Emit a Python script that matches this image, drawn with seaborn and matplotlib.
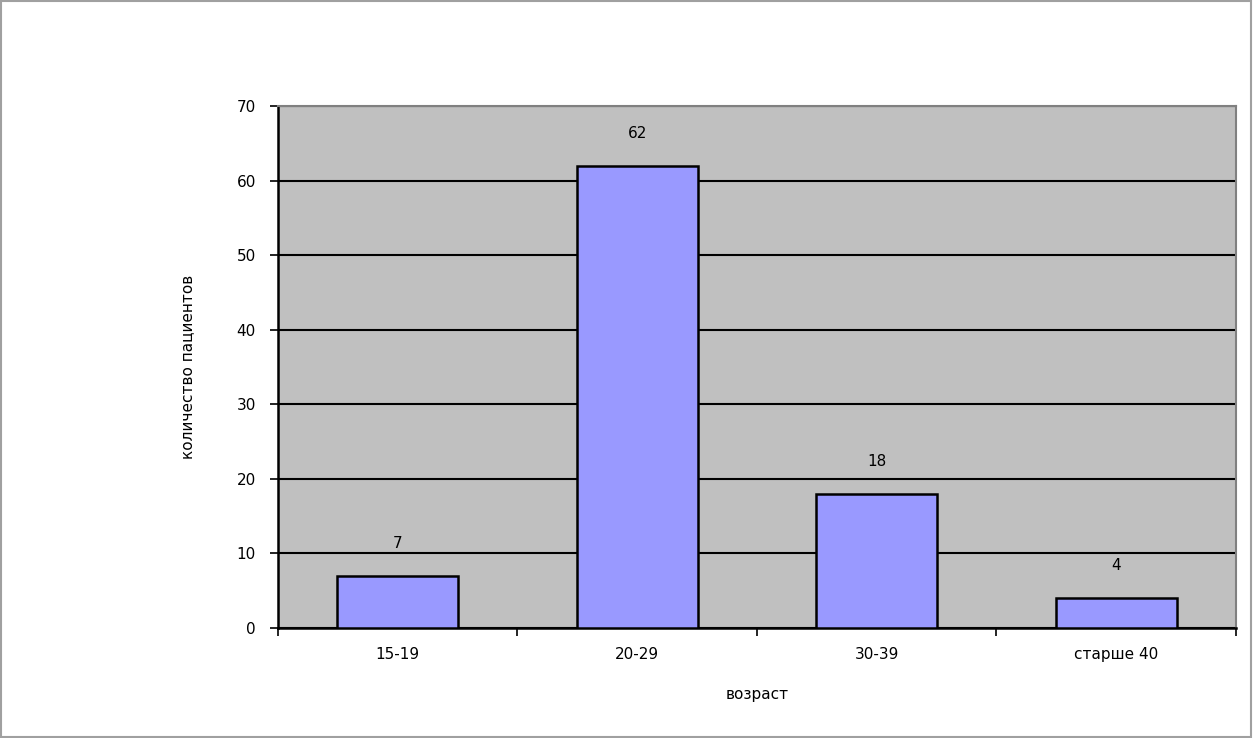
import matplotlib
matplotlib.use("Agg")
import matplotlib.pyplot as plt
import numpy as np
import pandas as pd
import seaborn as sns

categories = ["15-19", "20-29", "30-39", "старше 40"]
counts = [7, 62, 18, 4]
y_ticks = [0, 10, 20, 30, 40, 50, 60, 70]

df = pd.DataFrame({"age": categories, "n": counts})

sns.set_theme(style="white")
plt.rcParams["font.family"] = ["DejaVu Sans"]
plt.rcParams["text.color"] = "black"
plt.rcParams["axes.labelcolor"] = "black"
plt.rcParams["xtick.color"] = "black"
plt.rcParams["ytick.color"] = "black"

fig = plt.figure(figsize=(12.54, 7.38), dpi=100)
ax = fig.add_axes([0.2217, 0.149, 0.7639, 0.7073])
ax.set_facecolor("#C0C0C0")

sns.barplot(data=df, x="age", y="n", order=categories, color="#9999FF",
            saturation=1, width=0.505, edgecolor="black", linewidth=1.8, ax=ax,
            zorder=3)

ax.set_ylim(0, 70)
ax.set_xlim(-0.5, len(categories) - 0.5)
ax.set_yticks(y_ticks)
ax.yaxis.grid(True, color="black", linewidth=1.5, zorder=0)
ax.set_axisbelow(True)

for i, v in enumerate(counts):
    ax.annotate(str(v), (i, v), xytext=(0, 18), textcoords="offset points",
                ha="center", va="bottom", fontsize=11)

# category ticks sit between the bars
ax.set_xticks(np.arange(len(categories)))
ax.set_xticklabels(categories, fontsize=11)
ax.set_xticks(np.arange(len(categories) + 1) - 0.5, minor=True)
ax.tick_params(axis="x", which="major", length=0, pad=14, bottom=True)
ax.tick_params(axis="x", which="minor", length=6, width=1.2, color="black",
               direction="out", bottom=True)
ax.tick_params(axis="y", length=6, width=1.2, color="black", direction="out",
               labelsize=11, pad=10, left=True)

for side in ["left", "bottom"]:
    ax.spines[side].set_color("black")
    ax.spines[side].set_linewidth(1.8)
for side in ["top", "right"]:
    ax.spines[side].set_color("#808080")
    ax.spines[side].set_linewidth(1.5)

ax.set_xlabel("возраст", fontsize=11, labelpad=18)
ax.set_ylabel("количество пациентов", fontsize=11, labelpad=30)

# thin frame round the whole picture
fig.patches.append(plt.Rectangle((0.001, 0.002), 0.997, 0.996,
                                 transform=fig.transFigure, fill=False,
                                 edgecolor="#A0A0A0", linewidth=1.5))

fig.savefig("out.png", dpi=100, facecolor="white")
